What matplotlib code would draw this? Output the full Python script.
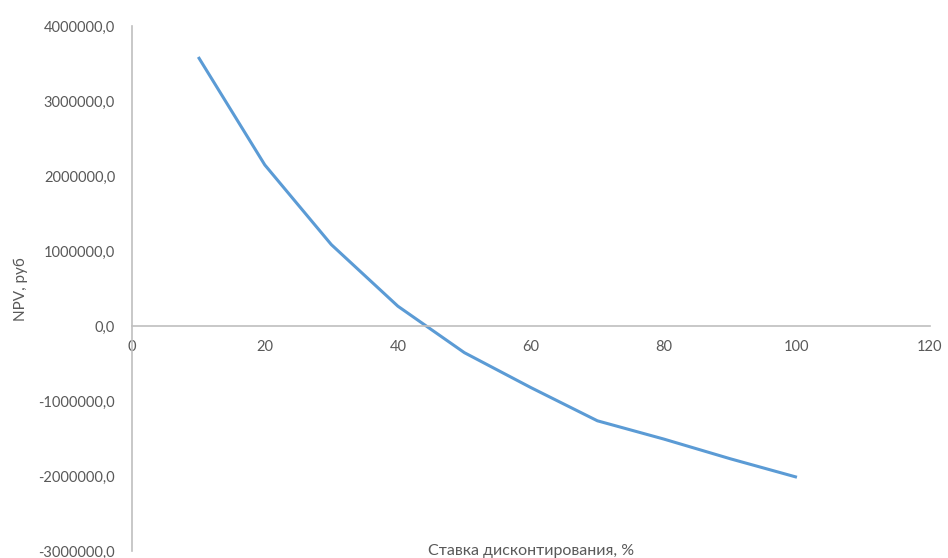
import matplotlib
matplotlib.use("Agg")
import matplotlib.pyplot as plt
from matplotlib.ticker import FuncFormatter

# discount rate, % and NPV, rub
rate = [10, 20, 30, 40, 50, 60, 70, 80, 90, 100]
npv = [3590000, 2150000, 1087000, 266000, -354000, -820000, -1263000, -1507000, -1770000, -2016000]

x_ticks = [0, 20, 40, 60, 80, 100, 120]
y_ticks = [-3000000, -2000000, -1000000, 0, 1000000, 2000000, 3000000, 4000000]

plt.rcParams['font.family'] = ['Lato', 'DejaVu Sans']
plt.rcParams['font.size'] = 10.5

fig = plt.figure(figsize=(9.48, 5.58), dpi=100)
ax = fig.add_axes([0.139, 0.0125, 0.842, 0.9405])

ax.plot(rate, npv, color='#5B9BD5', linewidth=2.2, solid_capstyle='butt')

ax.set_xlim(0, 120)
ax.set_ylim(-3000000, 4000000)
ax.set_xticks(x_ticks)
ax.set_yticks(y_ticks)
ax.yaxis.set_major_formatter(FuncFormatter(lambda v, p: f"{v:.1f}".replace('.', ',')))

for s in ['top', 'right']:
    ax.spines[s].set_visible(False)
ax.spines['bottom'].set_position(('data', 0))
ax.spines['left'].set_position(('data', 0))
for s in ['bottom', 'left']:
    ax.spines[s].set_color('#bfbfbf')
    ax.spines[s].set_linewidth(1.2)

ax.tick_params(axis='both', length=0, colors='#595959', labelsize=10.5)
ax.tick_params(axis='x', pad=10)
ax.tick_params(axis='y', pad=12)

ax.set_ylabel("NPV, руб", color='#595959', fontsize=11)
ax.yaxis.set_label_coords(-0.13, 0.5)
fig.text(0.56, 0.012, "Ставка дисконтирования, %", color='#595959',
         fontsize=11.5, ha='center', va='center')

fig.savefig("out.png", dpi=100)
